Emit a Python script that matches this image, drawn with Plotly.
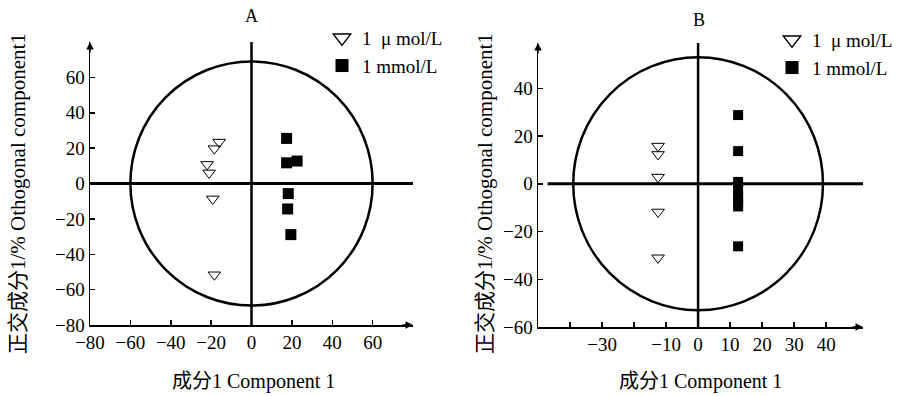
import plotly.graph_objects as go

# ---- data ----
a_tri_x = [-16, -18.4, -22, -21, -19.2, -18.4]
a_tri_y = [23.4, 19.7, 10.8, 6.0, -8.7, -51.6]
a_sq_x = [17.4, 17.4, 22.6, 18.2, 17.9, 19.5]
a_sq_y = [25.5, 11.7, 12.7, -5.7, -14.4, -28.9]

b_tri_x = [-12.5, -12.5, -12.5, -12.5, -12.5]
b_tri_y = [15.8, 12.3, 2.8, -11.8, -31.0]
b_sq_x = [12.5, 12.5, 12.5, 12.5, 12.5, 12.5, 12.5, 12.5]
b_sq_y = [28.8, 13.7, 0.8, -2.5, -5.5, -7.5, -9.5, -26.2]

a_xticks = [-80, -60, -40, -20, 0, 20, 40, 60]
a_yticks = [-80, -60, -40, -20, 0, 20, 40, 60]
b_xticks = [-40, -30, -20, -10, 0, 10, 20, 30, 40]
b_xticktext = ["", "\u221230", "", "\u221210", "0", "10", "20", "30", "40"]
b_yticks = [-60, -40, -20, 0, 20, 40]

series_names = ["1  \u03bc mol/L", "1 mmol/L"]
y_title = "正交成分1/% Othogonal component1"
x_title = "成分1 Component 1"

# ---- layout geometry (window pixels; body margin removed by post_script) ----
W, H = 897, 396
A_X = (90, 413)
A_Y = (42, 325)
B_X = (538, 863)
B_Y = (43, 327)
A_RANGE_X = [-80, 80]
A_RANGE_Y = [-80, 80]
B_RANGE_X = [-50, 51.5]
B_RANGE_Y = [-60, 59]
A_CIRCLE = (60, 69)
B_CIRCLE = (39, 53)

FONT = "Liberation Serif, Times New Roman, Noto Sans CJK SC, serif"

def fx(px):
    return px / W

def fy(py):
    return 1 - py / H

def px_dom(p):
    return [fx(p[0]), fx(p[1])]

def py_dom(p):
    return [fy(p[1]), fy(p[0])]

fig = go.Figure()

tri = dict(symbol="triangle-down-open", size=11, color="black", line=dict(width=1, color="black"))
sq = dict(symbol="square", size=11, color="black", line=dict(width=0))

fig.add_trace(go.Scatter(x=a_tri_x, y=a_tri_y, mode="markers", marker=tri, showlegend=False, xaxis="x", yaxis="y"))
fig.add_trace(go.Scatter(x=a_sq_x, y=a_sq_y, mode="markers", marker=sq, showlegend=False, xaxis="x", yaxis="y"))
fig.add_trace(go.Scatter(x=b_tri_x, y=b_tri_y, mode="markers", marker=tri, showlegend=False, xaxis="x2", yaxis="y2"))
fig.add_trace(go.Scatter(x=b_sq_x, y=b_sq_y, mode="markers", marker=dict(sq, size=10), showlegend=False, xaxis="x2", yaxis="y2"))

# legend entries
leg_tri = dict(symbol="triangle-down-open", size=15, color="black", line=dict(width=1.5, color="black"))
leg_sq = dict(symbol="square", size=13, color="black")
for lg, xa, ya in [("legend", "x", "y"), ("legend2", "x2", "y2")]:
    fig.add_trace(go.Scatter(x=[None], y=[None], mode="markers", marker=leg_tri, name=series_names[0],
                             legend=lg, xaxis=xa, yaxis=ya))
    fig.add_trace(go.Scatter(x=[None], y=[None], mode="markers", marker=leg_sq, name=series_names[1],
                             legend=lg, xaxis=xa, yaxis=ya))

axis_common = dict(showline=True, linecolor="black", linewidth=1.5, ticks="inside", ticklen=5,
                   tickwidth=1.5, tickcolor="black", showgrid=False, zeroline=False, automargin=False,
                   tickfont=dict(family=FONT, size=19, color="black"), mirror=False)

legend_common = dict(xanchor="left", yanchor="top", bgcolor="rgba(0,0,0,0)", borderwidth=0,
                     font=dict(family=FONT, size=19), tracegroupgap=0, itemsizing="trace")

fig.update_layout(
    width=W, height=H,
    margin=dict(l=0, r=0, t=0, b=0, pad=0, autoexpand=False),
    paper_bgcolor="white", plot_bgcolor="white",
    font=dict(family=FONT, color="black", size=18),
    hovermode=False,
    xaxis=dict(axis_common, domain=px_dom(A_X), range=A_RANGE_X, tickvals=a_xticks, anchor="y"),
    yaxis=dict(axis_common, domain=py_dom(A_Y), range=A_RANGE_Y, tickvals=a_yticks, anchor="x"),
    xaxis2=dict(axis_common, domain=px_dom(B_X), range=B_RANGE_X, tickvals=b_xticks, ticktext=b_xticktext, anchor="y2"),
    yaxis2=dict(axis_common, domain=py_dom(B_Y), range=B_RANGE_Y, tickvals=b_yticks, anchor="x2"),
    legend=dict(legend_common, x=fx(322), y=fy(19)),
    legend2=dict(legend_common, x=fx(772), y=fy(21)),
)

shapes = []
for xr, yr, rng_x, rng_y, circ, hstart in [("x", "y", A_RANGE_X, A_RANGE_Y, A_CIRCLE, A_RANGE_X[0]),
                                            ("x2", "y2", B_RANGE_X, B_RANGE_Y, B_CIRCLE, -47)]:
    shapes.append(dict(type="circle", xref=xr, yref=yr, x0=-circ[0], x1=circ[0], y0=-circ[1], y1=circ[1],
                       line=dict(color="black", width=2.5)))
    shapes.append(dict(type="line", xref=xr, yref=yr, x0=hstart, x1=rng_x[1], y0=0, y1=0,
                       line=dict(color="black", width=3)))
    shapes.append(dict(type="line", xref=xr, yref=yr, x0=0, x1=0, y0=rng_y[0], y1=rng_y[1],
                       line=dict(color="black", width=2.5)))
fig.update_layout(shapes=shapes)

ann = []
for XP, YP in [(A_X, A_Y), (B_X, B_Y)]:
    # arrow heads at axis ends
    ann.append(dict(xref="paper", yref="paper", x=fx(XP[1]), y=fy(YP[1]), ax=-12, ay=0, text="",
                    showarrow=True, arrowhead=2, arrowsize=1, arrowwidth=1.5, arrowcolor="black"))
    ann.append(dict(xref="paper", yref="paper", x=fx(XP[0]), y=fy(YP[0]), ax=0, ay=12, text="",
                    showarrow=True, arrowhead=2, arrowsize=1, arrowwidth=1.5, arrowcolor="black"))

def label(x, y, text, size, angle=0):
    return dict(xref="paper", yref="paper", x=fx(x), y=fy(y), text=text, showarrow=False,
                xanchor="center", yanchor="middle", textangle=angle, font=dict(size=size))

ann += [
    label(251, 16, "A", 18),
    label(699, 20, "B", 18),
    label(253, 381, x_title, 20),
    label(700, 381, x_title, 20),
    label(18, 194, y_title, 21, -90),
    label(485, 194, y_title, 21, -90),
]
fig.update_layout(annotations=ann)

fig.write_html("out.html", config={"displayModeBar": False, "staticPlot": True},
               post_script="document.body.style.margin='0';")
